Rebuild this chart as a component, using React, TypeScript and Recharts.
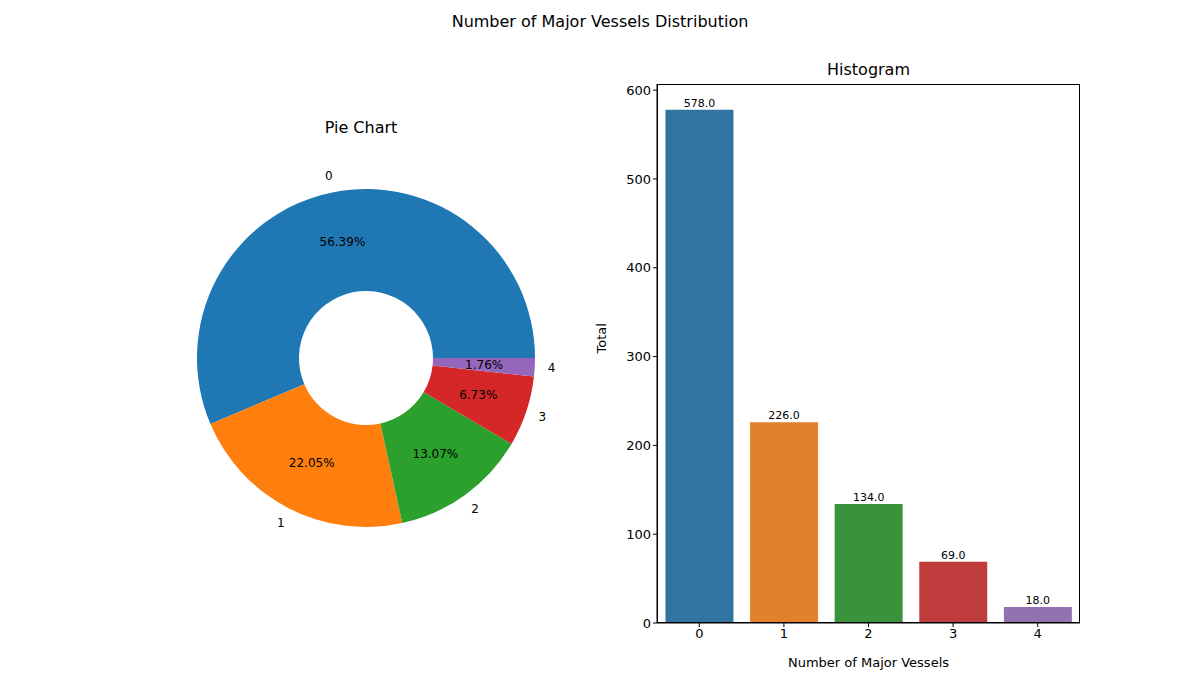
import { PieChart, Pie, Cell, BarChart, Bar, XAxis, YAxis, LabelList } from "recharts";

const categories = ["0", "1", "2", "3", "4"];
const counts = [578, 226, 134, 69, 18];
const pieColors = ["#1f77b4", "#ff7f0e", "#2ca02c", "#d62728", "#9467bd"];
const barColors = ["#3274a1", "#e1812c", "#3a923a", "#c03d3e", "#9372b2"];
const yTicks = [0, 100, 200, 300, 400, 500, 600];

const total = counts.reduce((a, b) => a + b, 0);
const rows = categories.map((c, i) => ({ cat: c, val: counts[i] }));

const font = "DejaVu Sans, sans-serif";
const RAD = Math.PI / 180;

function pieLabel(p: any) {
  const { cx, cy, midAngle, outerRadius, index, value } = p;
  const r1 = outerRadius * 1.1;
  const r2 = outerRadius * 0.7;
  const c = Math.cos(-midAngle * RAD);
  const s = Math.sin(-midAngle * RAD);
  return (
    <g>
      <text x={cx + r1 * c} y={cy + r1 * s} textAnchor="middle" dominantBaseline="central" fontSize={12} fill="#000" fontFamily={font}>
        {categories[index]}
      </text>
      <text x={cx + r2 * c} y={cy + r2 * s} textAnchor="middle" dominantBaseline="central" fontSize={12} fill="#000" fontFamily={font}>
        {((value / total) * 100).toFixed(2)}%
      </text>
    </g>
  );
}

export default function App() {
  return (
    <div style={{ position: "absolute", left: 0, top: 0, width: 1200, height: 700, background: "#fff", fontFamily: font }}>
      <div style={{ position: "absolute", top: 12, width: 1200, textAlign: "center", fontSize: 16 }}>
        Number of Major Vessels Distribution
      </div>
      <div style={{ position: "absolute", top: 118, left: 261, width: 200, textAlign: "center", fontSize: 16 }}>Pie Chart</div>
      <div style={{ position: "absolute", top: 60, left: 657, width: 423, textAlign: "center", fontSize: 16 }}>Histogram</div>
      <div style={{ position: "absolute", left: 0, top: 0 }}>
        <PieChart width={722} height={706}>
          <Pie
            data={rows}
            dataKey="val"
            cx={361}
            cy={353}
            innerRadius={67}
            outerRadius={169}
            startAngle={0}
            endAngle={360}
            stroke="none"
            label={pieLabel}
            labelLine={false}
            isAnimationActive={false}
          >
            {rows.map((r, i) => (
              <Cell key={r.cat} fill={pieColors[i]} />
            ))}
          </Pie>
        </PieChart>
      </div>
      <div style={{ position: "absolute", left: 0, top: 0 }}>
        <BarChart width={1200} height={700} data={rows} margin={{ left: 607, right: 120, top: 84, bottom: 47 }} barCategoryGap="10%">
          <XAxis dataKey="cat" height={30} tickLine={{ stroke: "#000" }} axisLine={{ stroke: "#000" }} tick={{ fill: "#000", fontSize: 13 }} tickSize={4}
            label={{ value: "Number of Major Vessels", position: "insideBottom", offset: -14, fill: "#000", fontSize: 13 }} />
          <YAxis width={50} domain={[0, 606.9]} ticks={yTicks} tickLine={{ stroke: "#000" }} axisLine={{ stroke: "#000" }} tick={{ fill: "#000", fontSize: 13 }} tickSize={4}
            label={{ value: "Total", angle: -90, position: "insideLeft", offset: -6, fill: "#000", fontSize: 13 }} />
          <Bar dataKey="val" isAnimationActive={false}>
            {rows.map((r, i) => (
              <Cell key={r.cat} fill={barColors[i]} />
            ))}
            <LabelList dataKey="val" position="top" offset={3} formatter={(v: any) => Number(v).toFixed(1)} fill="#000" fontSize={11} />
          </Bar>
        </BarChart>
      </div>
      <div style={{ position: "absolute", left: 657, top: 84, width: 423, height: 539, border: "1px solid #000", boxSizing: "border-box", pointerEvents: "none" }} />
    </div>
  );
}
